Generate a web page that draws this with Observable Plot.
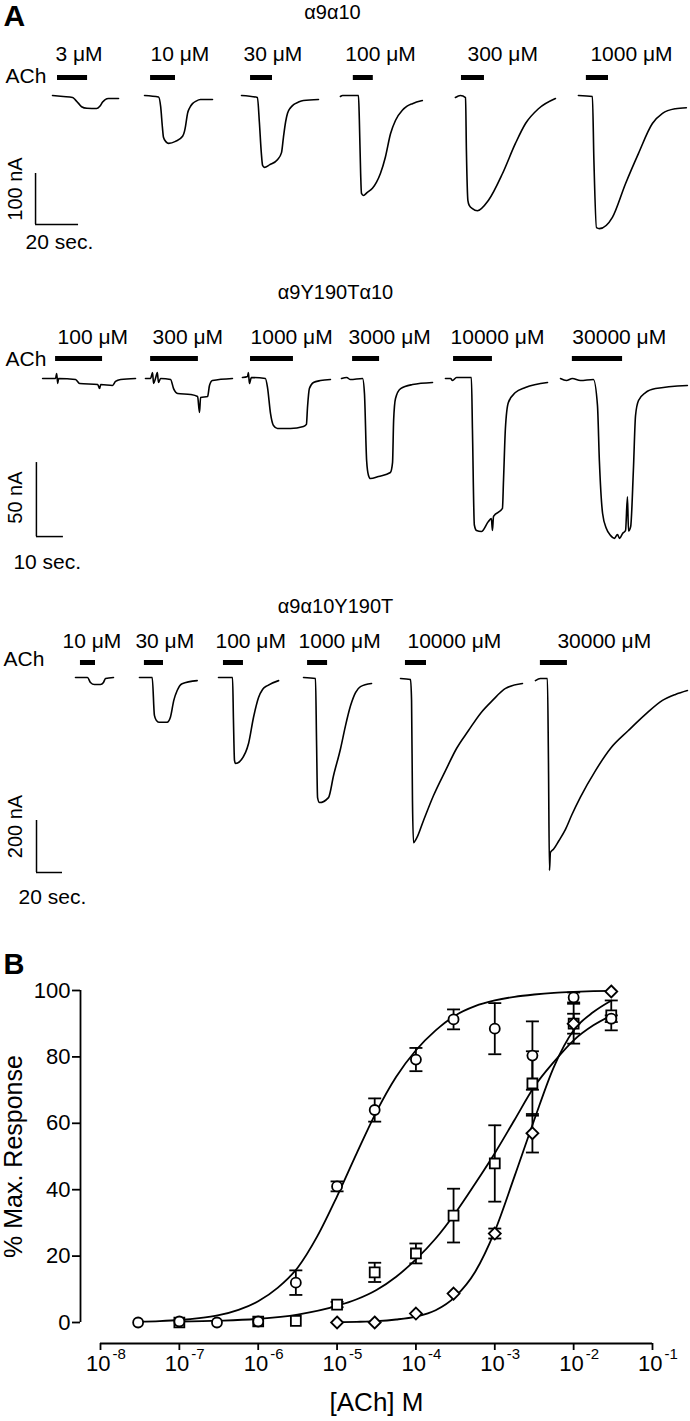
<!DOCTYPE html>
<html><head><meta charset="utf-8">
<script src="https://cdn.jsdelivr.net/npm/d3@7"></script>
<script src="https://cdn.jsdelivr.net/npm/@observablehq/plot@0.6"></script>
<style>
html,body{margin:0;padding:0;background:#fff;}
#fig{position:relative;width:690px;height:1421px;overflow:hidden;background:#fff;}
#fig > svg{position:absolute;left:0;}
</style></head><body><div id="fig"></div>
<script>
// ---------------- DATA: panel A (time s, current nA) ----------------
// Row 1: α9α10
const r1Title = "α9α10";
const r1Conc = ["3 μM", "10 μM", "30 μM", "100 μM", "300 μM", "1000 μM"];
const r1Start = [24.2, 67.0, 112.1, 158.1, 211.6, 268.8];
const r1On = [2.3, 2.8, 4.2, 6.0, 2.8, 3.7];
const r1Off = [16.3, 14.4, 14.4, 15.3, 13.5, 14.0];
const a1_3 = [[0,2],[5,0],[9.3,-2],[10.5,-6],[12,-13],[13.5,-20],[16,-23],[20.5,-23.5],[22,-19],[23.3,-11],[24.5,-6],[26,-4],[30.7,-4]];
const a1_10 = [[0,2],[6.5,-1],[7.5,-20],[8.3,-60],[8.8,-80],[10,-89],[11.2,-92],[14.4,-88],[17.7,-78],[18.6,-68],[19.1,-57],[20,-33],[21,-22],[22.3,-14],[24,-9],[26,-6],[31.6,-6]];
const a1_30 = [[0,2],[7.4,-2],[8.3,-50],[9.2,-110],[9.8,-135],[10.7,-139],[13,-134],[16.7,-124],[18.6,-110],[19.5,-80],[20.5,-50],[21.4,-33],[22.8,-22],[24.2,-16],[26.5,-11],[28.8,-8],[35.8,-6]];
const a1_100 = [[0,0],[1,2],[8.4,2],[8.8,-45],[9.4,-150],[9.8,-190],[10.7,-194],[12.5,-188],[14.9,-180],[16.8,-168],[18.6,-151],[20.9,-119],[23.3,-73],[25.6,-47],[28.8,-27],[31,-19],[33.5,-14],[38.1,-8]];
const a1_300 = [[0,-2],[2.3,2],[4.7,-2],[5.1,-106],[5.8,-204],[6.5,-214],[7.9,-220],[10.2,-224],[15.3,-204],[21.9,-151],[27.9,-92],[32.6,-53],[38.6,-24],[46.5,-4]];
const a1_1000 = [[0,2],[6.5,0],[7.2,-125],[8.4,-257],[9.8,-259],[15.8,-237],[21.9,-171],[27.9,-112],[34.4,-53],[39.1,-33],[45.1,-24],[50.2,-22]];

// Row 2: α9Y190Tα10
const r2Title = "α9Y190Tα10";
const r2Conc = ["100 μM", "300 μM", "1000 μM", "3000 μM", "10000 μM", "30000 μM"];
const r2Start = [15.6, 53.7, 89.6, 126.3, 164.8, 207.4];
const r2On = [4.8, 1.9, 3.0, 4.1, 3.0, 4.4];
const r2Off = [22.2, 19.6, 18.9, 14.1, 17.4, 23.0];
const b2_100 = [[0,0],[4.8,0],[5.2,3.4],[5.6,-3.4],[5.9,0],[12.2,-0.7],[13.7,-3.4],[20.4,-4.1],[21.1,-6.8],[21.5,-4.1],[25.9,-4.7],[27,-2],[28.9,-0.7],[34.4,0]];
const b2_300 = [[0,0],[1.9,0],[2.6,4],[3,-3.4],[3.7,0],[4.4,4],[4.8,-2.7],[5.6,0],[9.3,-0.7],[10.4,-6.8],[11.9,-10.1],[16.7,-10.8],[19.3,-12.2],[20,-23],[20.4,-12.8],[23,-12.2],[23.7,-4.7],[24.8,-1.4],[32.2,0]];
const b2_1000 = [[0,0.7],[1.9,1.4],[2.2,4],[2.6,-3.4],[3.3,0.7],[8.5,0],[9.3,-6.1],[10.4,-23.6],[11.5,-31.8],[13,-33.8],[17.8,-33.8],[22.6,-32.4],[23.7,-31],[24.1,-19.6],[24.8,-6.8],[26.3,-2.7],[28.9,-1.4],[32.6,-0.7]];
const b2_3000 = [[0,0],[1.9,0.7],[3.3,-0.7],[7.8,0],[8.5,-10.1],[9.3,-55.4],[10,-65.5],[10.7,-67.6],[13.7,-66.2],[18.1,-63.5],[18.9,-56.8],[19.3,-28.4],[20,-13.5],[21.9,-6.8],[26.3,-4.1],[33.7,-2.7]];
const b2_10000 = [[0,0],[1.9,0],[2.6,-1.4],[4.1,0.7],[9.6,0.7],[10,-35],[10.7,-99],[11.5,-102.7],[13.3,-103.4],[15.9,-96.6],[17,-94.6],[17.4,-102.7],[17.8,-93.2],[21.1,-87.8],[21.5,-68.9],[22.2,-33.8],[23.3,-16.2],[25.9,-9.5],[29.6,-6.1],[37.8,-2.7]];
const b2_30000 = [[0,0],[2.2,-1.4],[4.4,0],[7.4,-1.4],[12.2,-0.7],[13.7,-18.2],[14.4,-55.4],[15.6,-91.2],[17,-101.4],[18.5,-106],[20,-108],[21.1,-105.4],[21.9,-108],[23,-104.7],[24.1,-102.7],[24.8,-80],[25.2,-103],[26,-100],[27,-62],[27.8,-25],[28.9,-14.9],[31.5,-9.5],[35.2,-6.8],[47,-4.7]];

// Row 3: α9α10Y190T
const r3Title = "α9α10Y190T";
const r3Conc = ["10 μM", "30 μM", "100 μM", "1000 μM", "10000 μM", "30000 μM"];
const r3Start = [57.7, 106.9, 167.7, 233.1, 307.7, 411.5];
const r3On = [3.8, 3.8, 3.8, 3.1, 3.8, 3.8];
const r3Off = [15.4, 18.5, 19.2, 18.5, 20.0, 24.6];
const c3_10 = [[0,0],[9.2,0],[11.5,-19],[14.6,-27],[19.2,-27],[21.5,-19],[23.1,-4],[29.2,0]];
const c3_30 = [[0,0],[9.8,0],[11.5,-146],[13,-165],[14.9,-172],[21.3,-172],[23.8,-153],[26.4,-88],[29,-50],[32.8,-24],[44.4,-12]];
const c3_100 = [[0,0],[10.8,0],[11.5,-165],[12.3,-319],[13.1,-331],[20.8,-288],[23.1,-254],[26.9,-154],[30.8,-77],[34,-45],[37.7,-31],[46.2,-12]];
const c3_1000 = [[0,0],[9.2,-4],[10,-242],[10.8,-462],[12.3,-481],[19.2,-462],[23.1,-377],[28.5,-273],[32.3,-185],[36.2,-108],[40,-58],[43.8,-35],[52.3,-23]];
const c3_10000 = [[0,-4],[7.7,-8],[8.5,-88],[9.2,-473],[10,-635],[12.3,-619],[17.7,-550],[25.4,-454],[34.6,-358],[43.1,-273],[52.3,-204],[61.5,-138],[70.8,-88],[80.8,-42],[93.8,-23]];
const c3_30000 = [[0,-12],[3.8,-4],[9.2,-4],[10,-319],[10.8,-742],[11.5,-673],[14,-660],[18,-628],[23.1,-584],[28,-528],[34.6,-460],[46.2,-358],[57.7,-273],[71.5,-204],[84.6,-142],[97.7,-88],[107.7,-65],[116.9,-50]];

// ---------------- DATA: panel B ----------------
const concCirc = [3e-8,1e-7,3e-7,1e-6,3e-6,1e-5,3e-5,1e-4,3e-4,1e-3,3e-3,1e-2,3e-2];
const respCirc = [0,0.3,0,0.3,12,41,64,79.2,91.3,88.5,80.4,97.9,91.5];
const semCirc  = [0,0,0,0,3.7,1.5,3.5,3.5,3,7.7,10.3,1.5,1];
const concSq = [1e-7,1e-6,3e-6,1e-5,3e-5,1e-4,3e-4,1e-3,3e-3,1e-2,3e-2];
const respSq = [0,0.3,0.5,5.4,15.1,20.8,32.2,47.9,72,90,92.5];
const semSq  = [0,0,0,0.8,2.9,3,8.1,11.5,9.7,6,4.5];
const concDia = [1e-5,3e-5,1e-4,3e-4,1e-3,3e-3,1e-2,3e-2];
const respDia = [0,0,2.7,8.7,26.8,57,90,99.7];
const semDia  = [0,0,0.5,0.5,1.5,5.8,3,0];
// fitted curves (log10 [ACh], % response)
const fitCircLog = [-7.52,-7.25,-7,-6.75,-6.5,-6.25,-6,-5.75,-5.5,-5.25,-5,-4.75,-4.5,-4.25,-4,-3.75,-3.5,-3.25,-3,-2.75,-2.5,-2.25,-2,-1.75,-1.52];
const fitCircY   = [0.25,0.44,0.75,1.3,2.2,3.8,6.4,10.5,16.5,26,38,51,63.5,74,82,88,92.5,95.3,97,98.1,98.8,99.3,99.6,99.8,99.9];
const fitSqLog = [-7,-6.5,-6,-5.5,-5,-4.75,-4.5,-4.25,-4,-3.75,-3.5,-3.25,-3,-2.75,-2.5,-2.25,-2,-1.75,-1.52];
const fitSqY   = [0.3,0.55,1.1,2.4,5,7,9.8,13.8,19,25.3,33,41.8,51,61,71,78.5,85,89.5,92.5];
const fitDiaLog = [-5,-4.75,-4.5,-4.25,-4,-3.75,-3.5,-3.25,-3,-2.75,-2.5,-2.25,-2,-1.75,-1.52];
const fitDiaY   = [0.1,0.2,0.4,0.9,1.8,3.7,7.8,15.2,27.5,44,61,77,88,93.5,97];
const xTickVals = [1e-8,1e-7,1e-6,1e-5,1e-4,1e-3,1e-2,1e-1];
const xTickBase = ["10","10","10","10","10","10","10","10"];
const xTickExp  = ["-8","-7","-6","-5","-4","-3","-2","-1"];
const yTickVals = [0,20,40,60,80,100];

// ---------------- RENDER ----------------
const FONT = "'Liberation Sans', Arial, Helvetica, sans-serif";
const fig = document.getElementById("fig");

function makeRow(r) {
  const k = r.pxPerNA, s = r.pxPerS;
  const pts = [];
  r.traces.forEach((tr, i) => tr.forEach(([t, I]) => pts.push({x: r.start[i] + t, y: I, z: i})));
  const apps = r.conc.map((c, i) => ({label: c, x1: r.start[i] + r.on[i], x2: r.start[i] + r.off[i]}));
  const sb = r.scale;
  const marks = [
    Plot.line(pts, {x: "x", y: "y", z: "z", stroke: "black", strokeWidth: 1.6, curve: "monotone-x"}),
    Plot.ruleY(apps, {x1: "x1", x2: "x2", y: 0, dy: r.barDy, stroke: "black", strokeWidth: 5}),
    ...apps.map((a, i) => Plot.text([a], {x: "x1", y: 0, text: "label", dx: r.labelDx[i], dy: r.labelDy,
      textAnchor: "start", lineAnchor: "bottom", fontSize: 21})),
    Plot.text(["ACh"], {x: 0, y: 0, dx: r.achDx, dy: r.achDy, textAnchor: "start", lineAnchor: "bottom", fontSize: 21}),
    Plot.text([r.title], {frameAnchor: "top", dx: r.titleDx, dy: r.titleDy, lineAnchor: "bottom", fontSize: 20}),
    Plot.ruleX([sb], {x: d => d.t, y1: d => d.i0, y2: d => d.i0 + d.di, stroke: "black", strokeWidth: 1.5}),
    Plot.ruleY([sb], {y: d => d.i0, x1: d => d.t, x2: d => d.t + d.dt, stroke: "black", strokeWidth: 1.5}),
    Plot.text([sb], {x: d => d.t, y: d => d.i0 + d.di / 2, text: d => d.vlabel, rotate: -90, dx: sb.vdx, dy: sb.vdy,
      textAnchor: "middle", lineAnchor: "middle", fontSize: 20}),
    Plot.text([sb], {x: d => d.t, y: d => d.i0, text: d => d.hlabel, dx: sb.hdx, dy: sb.hdy,
      textAnchor: "start", lineAnchor: "bottom", fontSize: 21})
  ];
  if (r.panel) marks.push(Plot.text([r.panel], {frameAnchor: "top-left", dx: 3, dy: 25, textAnchor: "start",
    lineAnchor: "bottom", fontSize: 30, fontWeight: "bold"}));
  const svg = Plot.plot({
    width: 690, height: r.height, margin: 0,
    x: {domain: [0, 690 / s], axis: null},
    y: {domain: [-(r.height - r.base) / k, r.base / k], axis: null},
    style: {fontFamily: FONT, background: "transparent", overflow: "visible", color: "black"},
    marks
  });
  svg.style.top = r.top + "px";
  fig.appendChild(svg);
}

makeRow({panel: "A", top: 0, height: 260, base: 96, pxPerS: 2.15, pxPerNA: 0.51,
  title: r1Title, titleDx: -13, titleDy: 18, labelDy: -36, barDy: -19, achDy: -14, achDx: 5,
  labelDx: [-2, 0, -7, -8, 6, 4], conc: r1Conc, start: r1Start, on: r1On, off: r1Off,
  traces: [a1_3, a1_10, a1_30, a1_100, a1_300, a1_1000],
  scale: {t: 16.3, i0: -251, di: 100, dt: 20, vlabel: "100 nA", hlabel: "20 sec.", vdx: -20, vdy: -10, hdx: -10, hdy: 24}});

makeRow({top: 260, height: 320, base: 118, pxPerS: 2.7, pxPerNA: 1.48,
  title: r2Title, titleDx: -10, titleDy: 38, labelDy: -35, barDy: -20, achDy: -13, achDx: 5,
  labelDx: [2, 2, 0, -4, -3, 0], conc: r2Conc, start: r2Start, on: r2On, off: r2Off,
  traces: [b2_100, b2_300, b2_1000, b2_3000, b2_10000, b2_30000],
  scale: {t: 13.3, i0: -106.8, di: 50, dt: 10, vlabel: "50 nA", hlabel: "10 sec.", vdx: -21, vdy: -2, hdx: -23, hdy: 32}});

makeRow({top: 580, height: 330, base: 97, pxPerS: 1.3, pxPerNA: 0.26,
  title: r3Title, titleDx: -10, titleDy: 32, labelDy: -30, barDy: -15, achDy: -12, achDx: 3,
  labelDx: [-18, -9, -8, -9, 2, 17], conc: r3Conc, start: r3Start, on: r3On, off: r3Off,
  traces: [c3_10, c3_30, c3_100, c3_1000, c3_10000, c3_30000],
  scale: {t: 27.7, i0: -750, di: 200, dt: 20, vlabel: "200 nA", hlabel: "20 sec.", vdx: -21, vdy: -20, hdx: -18, hdy: 31}});

// Panel B
const toPts = (xs, ys, es) => xs.map((x, i) => ({x, y: ys[i], e: es ? es[i] : 0}));
const circ = toPts(concCirc, respCirc, semCirc);
const sq = toPts(concSq, respSq, semSq);
const dia = toPts(concDia, respDia, semDia);
const errs = [...circ, ...sq, ...dia].filter(d => d.e >= 0.8);
const fitCirc = fitCircLog.map((l, i) => ({x: 10 ** l, y: fitCircY[i]}));
const fitSq = fitSqLog.map((l, i) => ({x: 10 ** l, y: fitSqY[i]}));
const fitDia = fitDiaLog.map((l, i) => ({x: 10 ** l, y: fitDiaY[i]}));
const capSymbol = {draw(ctx) { ctx.moveTo(-6.5, 0); ctx.lineTo(6.5, 0); }};
const lw = 1.8;

const B = Plot.plot({
  width: 690, height: 511, marginTop: 80, marginBottom: 99, marginLeft: 100, marginRight: 38,
  x: {type: "log", domain: [1e-8, 1e-1]},
  y: {domain: [0, 100]},
  style: {fontFamily: FONT, background: "transparent", overflow: "visible", color: "black"},
  marks: [
    Plot.ruleX([1e-8], {y1: 0, y2: 100, dx: -20, stroke: "black", strokeWidth: lw}),
    Plot.axisY({ticks: yTickVals, tickSize: 8, tickPadding: 2, dx: -20, label: null, strokeWidth: lw, fontSize: 22}),
    Plot.ruleY([0], {x1: 1e-8, x2: 1e-1, dy: 21, stroke: "black", strokeWidth: lw}),
    Plot.axisX({ticks: xTickVals, tickSize: 7, dy: 21, tickFormat: () => "", label: null, strokeWidth: lw}),
    Plot.text(xTickVals, {x: d => d, y: 0, text: (d, i) => xTickBase[i], dx: 10, dy: 48, textAnchor: "end", lineAnchor: "bottom", fontSize: 22}),
    Plot.text(xTickVals, {x: d => d, y: 0, text: (d, i) => xTickExp[i], dx: 12, dy: 36, textAnchor: "start", lineAnchor: "bottom", fontSize: 15}),
    Plot.text(["[ACh] M"], {frameAnchor: "bottom", dy: 88, lineAnchor: "bottom", fontSize: 26}),
    Plot.text(["% Max. Response"], {frameAnchor: "left", dx: -87, rotate: -90, textAnchor: "middle", lineAnchor: "middle", fontSize: 25}),
    Plot.text(["B"], {frameAnchor: "top-left", dx: -97, dy: -17, textAnchor: "start", lineAnchor: "bottom", fontSize: 29, fontWeight: "bold"}),
    Plot.line(fitCirc, {x: "x", y: "y", stroke: "black", strokeWidth: lw, curve: "monotone-x"}),
    Plot.line(fitSq, {x: "x", y: "y", stroke: "black", strokeWidth: lw, curve: "monotone-x"}),
    Plot.line(fitDia, {x: "x", y: "y", stroke: "black", strokeWidth: lw, curve: "monotone-x"}),
    Plot.ruleX(errs, {x: "x", y1: d => d.y - d.e, y2: d => d.y + d.e, stroke: "black", strokeWidth: lw}),
    Plot.dot(errs, {x: "x", y: d => d.y + d.e, symbol: capSymbol, fill: "none", stroke: "black", strokeWidth: lw}),
    Plot.dot(errs, {x: "x", y: d => d.y - d.e, symbol: capSymbol, fill: "none", stroke: "black", strokeWidth: lw}),
    Plot.dot(sq, {x: "x", y: "y", symbol: "square", r: 5.6, fill: "white", stroke: "black", strokeWidth: lw}),
    Plot.dot(dia, {x: "x", y: "y", symbol: "diamond2", r: 5.4, fill: "white", stroke: "black", strokeWidth: lw}),
    Plot.dot(circ, {x: "x", y: "y", symbol: "circle", r: 5, fill: "white", stroke: "black", strokeWidth: lw})
  ]
});
B.style.top = "910px";
fig.appendChild(B);
</script></body></html>
